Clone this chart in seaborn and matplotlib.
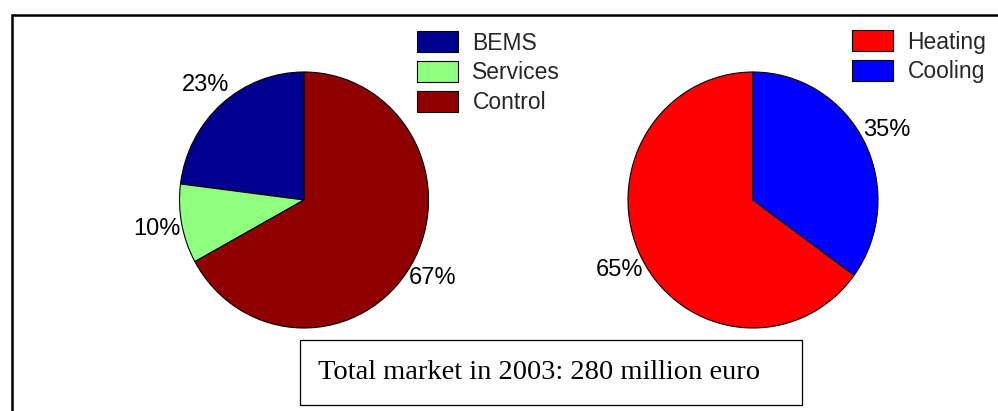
import matplotlib
matplotlib.use("Agg")
import matplotlib.pyplot as plt
import seaborn as sns
from matplotlib.patches import Rectangle
from matplotlib.lines import Line2D

# ---- data ----
left_labels = ["BEMS", "Services", "Control"]
left_values = [23, 10, 67]
left_colors = ["#00008F", "#8FFF80", "#8F0000"]

right_labels = ["Heating", "Cooling"]
right_values = [65, 35]
right_colors = ["#FF0000", "#0000FF"]

note_text = "Total market in 2003: 280 million euro"

sns.set_style("white")
plt.rcParams["font.family"] = ["Liberation Sans", "DejaVu Sans"]

W, H = 998, 411
fig = plt.figure(figsize=(W / 100, H / 100), dpi=100)
fig.patch.set_facecolor("white")


def px_axes(cx, cy, rx, ry):
    return fig.add_axes([(cx - rx) / W, 1 - (cy + ry) / H, 2 * rx / W, 2 * ry / H])


def draw_pie(ax, values, colors):
    wedges, texts, autotexts = ax.pie(
        values, colors=colors, startangle=90, counterclock=True,
        autopct="%.0f%%", pctdistance=1.2,
        wedgeprops=dict(edgecolor="black", linewidth=0.8),
        textprops=dict(fontsize=17, color="black"),
    )
    ax.set_aspect("auto")
    ax.set_xlim(-1, 1)
    ax.set_ylim(-1, 1)
    ax.axis("off")
    for t in autotexts:
        t.set_clip_on(False)
    return wedges


axL = px_axes(304, 200, 124.5, 128)
wL = draw_pie(axL, left_values, left_colors)
axR = px_axes(753, 200, 125, 128)
wR = draw_pie(axR, right_values, right_colors)

leg_kw = dict(frameon=False, fontsize=16.5, loc="upper left", borderpad=0,
              borderaxespad=0, handlelength=1.8, handleheight=1.06,
              handletextpad=0.62, labelspacing=0.28)
fig.legend(wL, left_labels, bbox_to_anchor=(417 / W, 1 - 31 / H), **leg_kw)
fig.legend(wR, right_labels, bbox_to_anchor=(852 / W, 1 - 30 / H), **leg_kw)

# outer frame (top and left edges visible; right/bottom run off the image)
fig.add_artist(Line2D([12 / W, 1.01], [1 - 15.5 / H, 1 - 15.5 / H],
                      transform=fig.transFigure, color="black", linewidth=1.8))
fig.add_artist(Line2D([12 / W, 12 / W], [1 - 15.5 / H, -0.01],
                      transform=fig.transFigure, color="black", linewidth=1.8))

# note box
fig.add_artist(Rectangle((300 / W, 1 - 405 / H), 502 / W, 65 / H,
                         transform=fig.transFigure, facecolor="white",
                         edgecolor="black", linewidth=0.9))
fig.text(318 / W, 1 - 372 / H, note_text, family=["Liberation Serif", "DejaVu Serif"],
         fontsize=20.5, ha="left", va="center", color="black")

fig.savefig("out.png", dpi=100, facecolor="white")
